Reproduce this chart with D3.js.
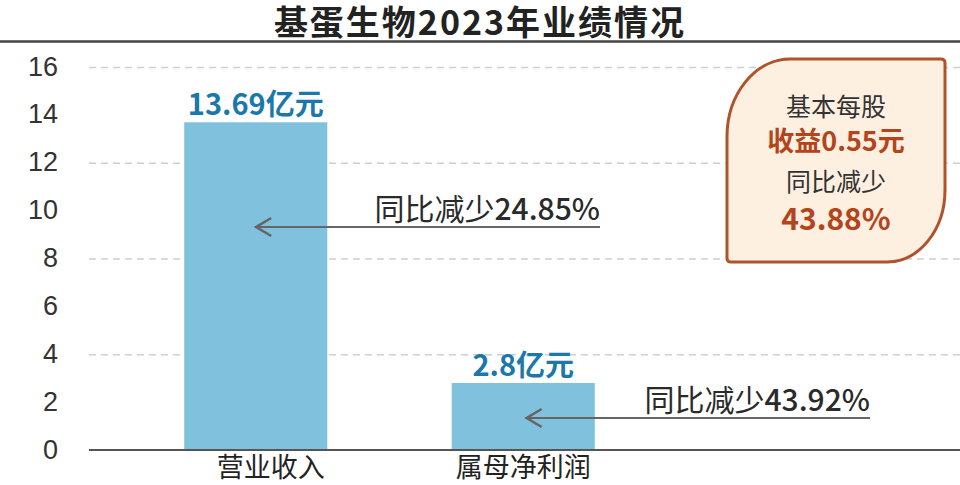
<!DOCTYPE html>
<html><head><meta charset="utf-8">
<script src="https://cdn.jsdelivr.net/npm/d3@7"></script>
<style>
html,body{margin:0;padding:0;background:#fff;}
svg{display:block;font-family:"Noto Sans CJK SC","Noto Sans",sans-serif;}
</style></head>
<body>
<svg id="c" width="960" height="485"></svg>
<script>
const title = "基蛋生物2023年业绩情况";
const categories = ["营业收入", "属母净利润"];
const values = [13.69, 2.8];
const valueUnit = "亿元";
const yTickLabels = [0, 2, 4, 6, 8, 10, 12, 14, 16];
const gridValues = [4, 8, 12, 16];
const changeTexts = ["同比减少", "同比减少"];
const changeValues = ["24.85%", "43.92%"];
const epsLines = ["基本每股", "收益0.55元", "同比减少", "43.88%"];

const svg = d3.select("#c");
const W = 960;

// title
svg.append("text").attr("x", 480).attr("y", 35).attr("text-anchor", "middle")
  .attr("font-size", 34).attr("font-weight", 700).attr("fill", "#222")
  .attr("letter-spacing", 2).text(title);
svg.append("line").attr("x1", 0).attr("x2", W).attr("y1", 41.5).attr("y2", 41.5)
  .attr("stroke", "#444").attr("stroke-width", 2.5);

const y = d3.scaleLinear().domain([0, 16]).range([450, 67]);
const x = d3.scaleBand().domain(categories).range([122, 657])
  .paddingInner(0.465).paddingOuter(0.2325);

// gridlines
const grid = svg.append("g").attr("transform", "translate(89,0)")
  .call(d3.axisLeft(y).tickValues(gridValues).tickSize(-(W - 89)).tickFormat(""));
grid.select(".domain").remove();
grid.selectAll(".tick line").attr("stroke", "#cfcfcf").attr("stroke-width", 1.5)
  .attr("stroke-dasharray", "7,5");

// y labels
const ya = svg.append("g").attr("transform", "translate(58,0)")
  .call(d3.axisLeft(y).tickValues(yTickLabels).tickSize(0).tickPadding(0));
ya.select(".domain").remove();
ya.selectAll(".tick text").attr("font-size", 27).attr("fill", "#333")
  .attr("font-family", "'Liberation Sans','Noto Sans',sans-serif").attr("dy", "0.3em");

// bars
svg.selectAll("rect.bar").data(values).join("rect").attr("class", "bar")
  .attr("x", (d, i) => x(categories[i])).attr("width", x.bandwidth())
  .attr("y", d => y(d)).attr("height", d => y(0) - y(d)).attr("fill", "#80c1de");

// baseline
svg.append("line").attr("x1", 89).attr("x2", W).attr("y1", 450).attr("y2", 450)
  .attr("stroke", "#555").attr("stroke-width", 2);

// value labels
svg.selectAll("text.val").data(values).join("text").attr("class", "val")
  .attr("x", (d, i) => x(categories[i]) + x.bandwidth() / 2)
  .attr("y", d => y(d) - 7).attr("text-anchor", "middle")
  .attr("font-size", 29).attr("font-weight", 700).attr("fill", "#1a78ab")
  .text(d => d + valueUnit);

// category labels
const catDx = [15, 0];
svg.selectAll("text.cat").data(categories).join("text").attr("class", "cat")
  .attr("x", (d, i) => x(d) + x.bandwidth() / 2 + catDx[i]).attr("y", 477).attr("text-anchor", "middle")
  .attr("font-size", 27).attr("fill", "#222").text(d => d);

// arrows
const arrowY = [227, 418];
const arrowTail = [600, 870];
const arrowHead = [x(categories[0]) + 72, x(categories[1]) + 75];
changeTexts.forEach((t, i) => {
  const hx = arrowHead[i], tx = arrowTail[i], ay = arrowY[i];
  svg.append("line").attr("x1", hx).attr("x2", tx).attr("y1", ay).attr("y2", ay)
    .attr("stroke", "#666").attr("stroke-width", 2.2);
  svg.append("path").attr("d", `M${hx + 15},${ay - 9} L${hx},${ay} L${hx + 15},${ay + 9}`)
    .attr("fill", "none").attr("stroke", "#666").attr("stroke-width", 2.6);
  const tt = svg.append("text").attr("x", tx).attr("y", ay - 7).attr("text-anchor", "end")
    .attr("font-size", 30).attr("fill", "#2a2a2a");
  tt.append("tspan").text(t);
  tt.append("tspan").attr("font-weight", 500).text(changeValues[i]);
});

// EPS box
const bx0 = 727, bx1 = 945, by0 = 59, by1 = 262;
const r = 4;
const boxPath = `M${bx0},${by0 + 78} A63,78 0 0 1 ${bx0 + 63},${by0}
 L${bx1 - r},${by0} Q${bx1},${by0} ${bx1},${by0 + r}
 L${bx1},${by1 - 72} A58,72 0 0 1 ${bx1 - 58},${by1}
 L${bx0 + r},${by1} Q${bx0},${by1} ${bx0},${by1 - r} Z`;
svg.append("path").attr("d", boxPath).attr("fill", "#fdf0e0")
  .attr("stroke", "#b0522b").attr("stroke-width", 3);
const bc = (bx0 + bx1) / 2;
const epsY = [116, 151, 191, 230];
const epsStyle = [
  {size: 25, weight: 400, fill: "#333"},
  {size: 27, weight: 700, fill: "#b3441b"},
  {size: 25, weight: 400, fill: "#333"},
  {size: 30, weight: 700, fill: "#b3441b"}
];
epsLines.forEach((t, i) => {
  svg.append("text").attr("x", bc).attr("y", epsY[i]).attr("text-anchor", "middle")
    .attr("font-size", epsStyle[i].size).attr("font-weight", epsStyle[i].weight)
    .attr("fill", epsStyle[i].fill).text(t);
});
</script>
</body></html>
